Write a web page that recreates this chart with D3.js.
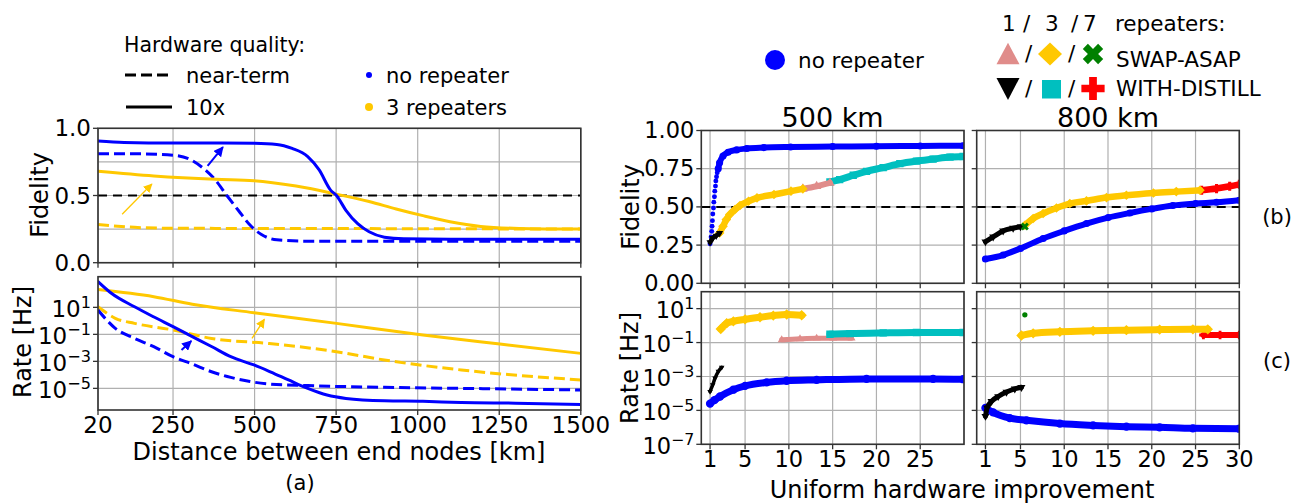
<!DOCTYPE html>
<html><head><meta charset="utf-8">
<script src="https://cdn.jsdelivr.net/npm/d3@7"></script>
<style>
body{margin:0;background:#fff}
svg{display:block}
text{font-family:"DejaVu Sans",sans-serif;fill:#000}
</style>
</head><body>
<svg id="c" width="1302" height="504"></svg>
<script>
// ---------------- DATA ----------------
const distTicks = [20, 250, 500, 750, 1000, 1250, 1500];
const fidTicksA = [0, 0.5, 1.0];
const fidGridA = [0, 0.25, 0.5, 0.75, 1.0];
const rateTicksA = [1e1, 1e-1, 1e-3, 1e-5];
const rateTickLabelsA = ["1", "\u22121", "\u22123", "\u22125"];
const imprTicks500 = [1, 5, 10, 15, 20, 25];
const imprTicks800 = [1, 5, 10, 15, 20, 25, 30];
const fidTicksB = [0, 0.25, 0.5, 0.75, 1.0];
const fidTickLabelsB = ["0.00", "0.25", "0.50", "0.75", "1.00"];
const rateTicksB = [1e1, 1e-1, 1e-3, 1e-5, 1e-7];
const rateTickLabelsB = ["1", "\u22121", "\u22123", "\u22125", "\u22127"];

// (a) fidelity vs distance [km, fidelity]
const fidA_noRep_10x = [[20,0.906],[100,0.895],[250,0.89],[400,0.89],[500,0.888],[568,0.88],[615,0.85],[663,0.79],[698,0.69],[733,0.54],[751,0.5],[780,0.39],[816,0.29],[851,0.23],[898,0.19],[957,0.178],[1100,0.175],[1500,0.175]];
const fidA_noRep_near = [[20,0.81],[150,0.81],[250,0.80],[309,0.76],[344,0.70],[380,0.615],[415,0.50],[450,0.39],[486,0.28],[521,0.21],[568,0.17],[663,0.16],[900,0.16],[1500,0.16]];
const fidA_3rep_10x = [[20,0.68],[191,0.645],[380,0.62],[498,0.61],[627,0.57],[751,0.51],[851,0.455],[934,0.40],[1016,0.35],[1099,0.305],[1193,0.27],[1311,0.255],[1500,0.25]];
const fidA_3rep_near = [[20,0.285],[132,0.263],[250,0.256],[500,0.255],[1000,0.253],[1500,0.25]];

// (a) rate vs distance [km, Hz]
const rateA_noRep_10x = [[20,8e2],[61,1.1e2],[132,11],[190,2],[250,0.37],[309,0.068],[368,0.0126],[427,2.2e-3],[498,5.4e-4],[550,1.6e-4],[604,4.2e-5],[663,1e-5],[722,3.2e-6],[780,1.8e-6],[898,1.2e-6],[1016,1.1e-6],[1134,9e-7],[1300,8e-7],[1500,6.5e-7]];
const rateA_noRep_near = [[20,6.3],[73,0.28],[132,0.05],[191,0.0123],[250,2.2e-3],[309,6.3e-4],[368,1.7e-4],[427,6.5e-5],[486,3.2e-5],[545,2.1e-5],[663,1.6e-5],[898,1.2e-5],[1200,9.5e-6],[1500,7.6e-6]];
const rateA_3rep_10x = [[20,2.1e2],[191,62],[309,17],[498,4],[751,0.65],[1016,0.089],[1252,0.019],[1500,3.9e-3]];
const rateA_3rep_near = [[20,11],[73,1.55],[132,0.65],[250,0.21],[368,0.05],[545,0.021],[751,5.2e-3],[898,1.26e-3],[1134,2.3e-4],[1500,4.2e-5]];

// (b) fidelity vs hardware improvement, 500 km
const fid500_noRep_sparse = [[1.0,0.259],[1.12,0.303],[1.19,0.34],[1.23,0.373],[1.27,0.41],[1.31,0.454],[1.39,0.493],[1.43,0.531],[1.5,0.566],[1.54,0.603],[1.62,0.636],[1.66,0.669],[1.74,0.697],[1.82,0.724],[1.93,0.75]];
const fid500_noRep = [[1.93,0.75],[2.09,0.789],[2.48,0.833],[3.06,0.858],[4.03,0.873],[5.19,0.882],[7.14,0.888],[10.2,0.892],[15,0.895],[20,0.897],[25,0.899],[29.9,0.9]];
const fid500_1rep_distill = [[1.0,0.268],[1.31,0.296],[1.7,0.311],[2.09,0.329]];
const fid500_3rep_swap = [[2.09,0.329],[2.48,0.373],[2.86,0.417],[3.25,0.45],[3.83,0.482],[4.42,0.509],[5.39,0.537],[6.36,0.559],[8.3,0.581],[10.24,0.603],[11.6,0.618]];
const fid500_1rep_swap = [[11.6,0.618],[13.17,0.635],[14.69,0.657]];
const fid500_3rep_distill = [[14.69,0.663],[15.8,0.678],[17.35,0.707],[18.87,0.733],[20.77,0.757],[22.67,0.783],[24.57,0.80],[26.47,0.813],[28.4,0.826],[29.9,0.83]];

// (b) fidelity, 800 km
const fid800_noRep = [[1,0.159],[3.02,0.185],[5,0.228],[7.59,0.293],[10,0.343],[12.54,0.391],[15.02,0.43],[17.5,0.46],[20,0.487],[22.4,0.509],[25,0.522],[27.4,0.53],[30,0.543]];
const fid800_1rep_distill = [[1,0.272],[1.88,0.304],[3.02,0.343],[4.16,0.361],[5,0.37]];
const fid800_7rep_swap = [[5.5,0.372]];
const fid800_3rep_swap = [[5.5,0.38],[6.45,0.424],[7.59,0.457],[9.11,0.493],[10.64,0.522],[12.54,0.539],[14.83,0.561],[17.1,0.576],[20.2,0.591],[22.8,0.6],[25.5,0.609]];
const fid800_7rep_distill = [[25.7,0.609],[27.4,0.62],[28.9,0.635],[30,0.648]];

// (c) rate, 500 km
const rate500_noRep = [[1,2.5e-5],[1.5,4e-5],[2.14,6.6e-5],[3.66,1.66e-4],[5,2.8e-4],[7.46,4.5e-4],[9.75,5.6e-4],[13.17,6.3e-4],[18.87,7.2e-4],[26.47,7.2e-4],[29.9,6.9e-4]];
const rate500_1rep_distill = [[1.0,1.3e-4],[1.3,3.2e-4],[1.57,7.9e-4],[1.95,2e-3],[2.33,3.5e-3]];
const rate500_3rep_swap = [[2.22,0.63],[2.9,1.38],[3.66,1.78],[5,2.34],[6.7,3.1],[8.22,3.9],[9.75,4.5],[11.46,4.1]];
const rate500_1rep_swap = [[9.18,0.145],[11.27,0.166],[13.17,0.178],[15.07,0.178],[17.16,0.178]];
const rate500_3rep_distill = [[14.69,0.31],[16.97,0.34],[20.77,0.37],[24.57,0.39],[29.9,0.39]];

// (c) rate, 800 km
const rate800_noRep = [[1,1.4e-5],[1.88,7.6e-6],[3.78,3.5e-6],[5.69,2.6e-6],[9.5,1.66e-6],[13.3,1.3e-6],[17.1,1.1e-6],[20.9,1e-6],[24.7,8.7e-7],[30,8.3e-7]];
const rate800_1rep_distill = [[1,4.5e-6],[1.19,1.4e-5],[1.69,3.4e-5],[2.45,6.6e-5],[3.4,1.2e-4],[4.35,1.86e-4],[5.11,2.3e-4]];
const rate800_7rep_swap = [[5.5,4.3]];
const rate800_3rep_swap = [[5.11,0.26],[6.45,0.35],[9.5,0.43],[13.3,0.49],[17.1,0.54],[20.9,0.58],[24.7,0.6],[26.4,0.6]];
const rate800_7rep_distill = [[25.9,0.28],[27.8,0.28],[30,0.28]];

// arrows [from, to] in data coordinates
const arrowsFidA = [{c:"blue", w:2, from:[356,0.72], to:[403,0.86]}, {c:"gold", w:1.3, from:[94,0.36], to:[185,0.585]}];
const arrowsRateA = [{c:"gold", w:1.3, from:[492,0.05], to:[530,1.3]}, {c:"blue", w:2, from:[276,6.9e-3], to:[306,3.2e-2]}];

// ---------------- STYLE ----------------
const C = {blue:"#0000ff", gold:"#ffc800", pink:"#e08c8a", teal:"#00bfbf", green:"#008000", red:"#ff0000", black:"#000000"};
const GRID = "#b0b0b0", FRAME = "#333";

const svg = d3.select("#c");
const defs = svg.append("defs");
["blue","gold"].forEach(k => {
  defs.append("marker").attr("id","ah-"+k).attr("viewBox","0 0 10 10").attr("refX",9).attr("refY",5)
    .attr("markerWidth", k==="blue"?5:7).attr("markerHeight", k==="blue"?5:7).attr("markerUnits","strokeWidth").attr("orient","auto")
    .append("path").attr("d","M0,0 L10,5 L0,10 Z").attr("fill",C[k]);
});

let clipN = 0;
function makePanel(xs, ys) {
  const g = svg.append("g");
  const id = "clip" + (clipN++);
  const [x0,x1] = xs.range(), [y0,y1] = ys.range();
  defs.append("clipPath").attr("id", id).append("rect")
    .attr("x", x0).attr("y", y1).attr("width", x1-x0).attr("height", y0-y1);
  const grid = g.append("g");
  const data = g.append("g").attr("clip-path", `url(#${id})`);
  const top = g.append("g");
  return {g, grid, data, top, xs, ys, x0, x1, y0, y1};
}
function gridX(p, vals) {
  vals.forEach(v => p.grid.append("line").attr("x1",p.xs(v)).attr("x2",p.xs(v)).attr("y1",p.y0).attr("y2",p.y1)
    .attr("stroke",GRID).attr("stroke-width",1.2));
}
function gridY(p, vals) {
  vals.forEach(v => p.grid.append("line").attr("y1",p.ys(v)).attr("y2",p.ys(v)).attr("x1",p.x0).attr("x2",p.x1)
    .attr("stroke",GRID).attr("stroke-width",1.2));
}
function frame(p) {
  p.top.append("rect").attr("x",p.x0).attr("y",p.y1).attr("width",p.x1-p.x0).attr("height",p.y0-p.y1)
    .attr("fill","none").attr("stroke",FRAME).attr("stroke-width",1.6);
}
function xTicks(p, vals, labels, baseY, fs) {
  vals.forEach((v,i) => {
    p.top.append("line").attr("x1",p.xs(v)).attr("x2",p.xs(v)).attr("y1",p.y0).attr("y2",p.y0+5).attr("stroke",FRAME).attr("stroke-width",1.3);
    if (labels) p.top.append("text").attr("x",p.xs(v)).attr("y",baseY).attr("text-anchor","middle").attr("font-size",fs).text(labels[i]);
  });
}
function yTicks(p, vals, labels, fs, dy) {
  vals.forEach((v,i) => {
    p.top.append("line").attr("y1",p.ys(v)).attr("y2",p.ys(v)).attr("x1",p.x0-5).attr("x2",p.x0).attr("stroke",FRAME).attr("stroke-width",1.3);
    if (labels) p.top.append("text").attr("x",p.x0-7).attr("y",p.ys(v)+dy).attr("text-anchor","end").attr("font-size",fs).text(labels[i]);
  });
}
function yLogTicks(p, vals, exps, fs, dy) {
  vals.forEach((v,i) => {
    p.top.append("line").attr("y1",p.ys(v)).attr("y2",p.ys(v)).attr("x1",p.x0-5).attr("x2",p.x0).attr("stroke",FRAME).attr("stroke-width",1.3);
    if (exps) {
      const t = p.top.append("text").attr("x",p.x0-7).attr("y",p.ys(v)+dy).attr("text-anchor","end").attr("font-size",fs);
      t.append("tspan").text("10");
      t.append("tspan").attr("dy", -0.4*fs).attr("font-size", fs*0.7).text(exps[i]);
    }
  });
}
function line(p, data, color, width, dash) {
  const gen = d3.line().x(d => p.xs(d[0])).y(d => p.ys(d[1])).curve(d3.curveMonotoneX);
  const path = p.data.append("path").attr("d", gen(data)).attr("fill","none").attr("stroke",color)
    .attr("stroke-width",width).attr("stroke-linejoin","round").attr("stroke-linecap", dash ? "butt" : "round");
  if (dash) path.attr("stroke-dasharray", dash);
  return path;
}
const sym = {
  circle: d3.symbolCircle, triUp: d3.symbolTriangle, triDown: d3.symbolTriangle,
  diamond: d3.symbolSquare, x: d3.symbolCross, plus: d3.symbolCross, square: d3.symbolSquare
};
const rot = {triDown:180, diamond:45, x:45};
function markers(p, data, shape, color, size) {
  p.data.selectAll(null).data(data).enter().append("path")
    .attr("d", d3.symbol().type(sym[shape]).size(size)())
    .attr("transform", d => `translate(${p.xs(d[0])},${p.ys(d[1])}) rotate(${rot[shape]||0})`)
    .attr("fill", color);
}
function band(p, data, shape, color, width) {
  line(p, data, color, width);
  markers(p, data, shape, color, width*width*1.1);
}
function arrow(p, a) {
  p.data.append("line").attr("x1",p.xs(a.from[0])).attr("y1",p.ys(a.from[1]))
    .attr("x2",p.xs(a.to[0])).attr("y2",p.ys(a.to[1]))
    .attr("stroke",C[a.c]).attr("stroke-width",a.w).attr("marker-end",`url(#ah-${a.c})`);
}

// ---------------- PANEL (a) ----------------
const xA = d3.scaleLinear().domain([20,1500]).range([98,580.8]);
const yFA = d3.scaleLinear().domain([0,1]).range([262.7,128.3]);
const yRA = d3.scaleLog().domain([2.5e-7,1.86e3]).range([410,276.7]);

const pFA = makePanel(xA, yFA);
gridX(pFA, distTicks); gridY(pFA, fidGridA);
line(pFA, [[20,0.5],[1500,0.5]], "#000", 1.8, "9,6");
line(pFA, fidA_3rep_near, C.gold, 3, "11,5");
line(pFA, fidA_noRep_near, C.blue, 3, "11,5");
line(pFA, fidA_3rep_10x, C.gold, 3);
line(pFA, fidA_noRep_10x, C.blue, 3);
arrowsFidA.forEach(a => arrow(pFA, a));
frame(pFA);
xTicks(pFA, distTicks, null);
yTicks(pFA, fidTicksA, fidTicksA.map(d => d.toFixed(1)), 23, 8);

const pRA = makePanel(xA, yRA);
gridX(pRA, distTicks); gridY(pRA, rateTicksA);
line(pRA, rateA_3rep_near, C.gold, 3, "11,5");
line(pRA, rateA_noRep_near, C.blue, 3, "11,5");
line(pRA, rateA_3rep_10x, C.gold, 3);
line(pRA, rateA_noRep_10x, C.blue, 3);
arrowsRateA.forEach(a => arrow(pRA, a));
frame(pRA);
xTicks(pRA, distTicks, distTicks.map(String), 433, 23);
yLogTicks(pRA, rateTicksA, rateTickLabelsA, 23, 10);

svg.append("text").attr("x",40).attr("y",195).attr("font-size",24).attr("text-anchor","middle")
  .attr("transform","rotate(-90,40,195)").attr("dy",8).text("Fidelity");
svg.append("text").attr("x",23).attr("y",342).attr("font-size",24).attr("text-anchor","middle")
  .attr("transform","rotate(-90,23,342)").attr("dy",8).text("Rate [Hz]");
svg.append("text").attr("x",339).attr("y",460).attr("font-size",24).attr("text-anchor","middle").text("Distance between end nodes [km]");
svg.append("text").attr("x",300).attr("y",490).attr("font-size",21).attr("text-anchor","middle").text("(a)");

// legend (a)
const lgA = svg.append("g");
lgA.append("text").attr("x",124).attr("y",52).attr("font-size",20.5).text("Hardware quality:");
lgA.append("line").attr("x1",125).attr("x2",170).attr("y1",75).attr("y2",75).attr("stroke","#000").attr("stroke-width",3).attr("stroke-dasharray","11,5");
lgA.append("text").attr("x",186).attr("y",83).attr("font-size",21).text("near-term");
lgA.append("line").attr("x1",126).attr("x2",172).attr("y1",107).attr("y2",107).attr("stroke","#000").attr("stroke-width",3);
lgA.append("text").attr("x",186).attr("y",115).attr("font-size",21).text("10x");
lgA.append("circle").attr("cx",369).attr("cy",75).attr("r",3).attr("fill",C.blue);
lgA.append("text").attr("x",386).attr("y",83).attr("font-size",21).text("no repeater");
lgA.append("circle").attr("cx",369).attr("cy",107).attr("r",4).attr("fill",C.gold);
lgA.append("text").attr("x",386).attr("y",115).attr("font-size",21).text("3 repeaters");

// ---------------- PANELS (b),(c) ----------------
const x500 = d3.scaleLinear().domain([0,30]).range([701.3,964]);
const x800 = d3.scaleLinear().domain([0,30]).range([976.7,1239.3]);
const yFB = d3.scaleLinear().domain([0,1]).range([283.3,130.5]);
const yRB = d3.scaleLog().domain([1e-7,1e2]).range([444.3,291.7]);

// 500 km fidelity
const pF5 = makePanel(x500, yFB);
gridX(pF5, imprTicks800); gridY(pF5, fidTicksB);
line(pF5, [[0,0.5],[30,0.5]], "#000", 2, "9,6");
band(pF5, fid500_noRep, "circle", C.blue, 6);
markers(pF5, fid500_noRep_sparse, "circle", C.blue, 19);
band(pF5, fid500_3rep_distill, "square", C.teal, 7);
band(pF5, fid500_1rep_swap, "triUp", C.pink, 6);
band(pF5, fid500_3rep_swap, "diamond", C.gold, 6.5);
band(pF5, fid500_1rep_distill, "triDown", C.black, 4.5);
frame(pF5);
xTicks(pF5, imprTicks500, null);
yTicks(pF5, fidTicksB, fidTickLabelsB, 22.5, 7.5);

// 800 km fidelity
const pF8 = makePanel(x800, yFB);
gridX(pF8, imprTicks800); gridY(pF8, fidTicksB);
line(pF8, [[0,0.5],[30,0.5]], "#000", 2, "9,6");
band(pF8, fid800_noRep, "circle", C.blue, 6);
band(pF8, fid800_7rep_distill, "plus", C.red, 6.5);
band(pF8, fid800_3rep_swap, "diamond", C.gold, 6.5);
band(pF8, fid800_1rep_distill, "triDown", C.black, 5);
markers(pF8, fid800_7rep_swap, "x", C.green, 40);
frame(pF8);
xTicks(pF8, imprTicks800, null);
yTicks(pF8, fidTicksB, null);

// 500 km rate
const pR5 = makePanel(x500, yRB);
gridX(pR5, imprTicks800); gridY(pR5, rateTicksB);
band(pR5, rate500_noRep, "circle", C.blue, 7);
band(pR5, rate500_1rep_swap, "triUp", C.pink, 5);
band(pR5, rate500_3rep_distill, "square", C.teal, 7);
band(pR5, rate500_3rep_swap, "diamond", C.gold, 7);
band(pR5, rate500_1rep_distill, "triDown", C.black, 3.5);
frame(pR5);
xTicks(pR5, imprTicks500, imprTicks500.map(String), 467, 22.5);
yLogTicks(pR5, rateTicksB, rateTickLabelsB, 22.5, 9.5);

// 800 km rate
const pR8 = makePanel(x800, yRB);
gridX(pR8, imprTicks800); gridY(pR8, rateTicksB);
band(pR8, rate800_noRep, "circle", C.blue, 7);
band(pR8, rate800_7rep_distill, "plus", C.red, 6);
band(pR8, rate800_3rep_swap, "diamond", C.gold, 7);
band(pR8, rate800_1rep_distill, "triDown", C.black, 5);
markers(pR8, rate800_7rep_swap, "circle", C.green, 22);
frame(pR8);
xTicks(pR8, imprTicks800, imprTicks800.map(String), 467, 22.5);
yLogTicks(pR8, rateTicksB, null);

// titles / labels
svg.append("text").attr("x",832.6).attr("y",127).attr("font-size",27).attr("text-anchor","middle").text("500 km");
svg.append("text").attr("x",1108).attr("y",127).attr("font-size",27).attr("text-anchor","middle").text("800 km");
svg.append("text").attr("x",631).attr("y",207).attr("font-size",24).attr("text-anchor","middle")
  .attr("transform","rotate(-90,631,207)").attr("dy",8).text("Fidelity");
svg.append("text").attr("x",630).attr("y",368).attr("font-size",24).attr("text-anchor","middle")
  .attr("transform","rotate(-90,630,368)").attr("dy",8).text("Rate [Hz]");
svg.append("text").attr("x",962).attr("y",498).attr("font-size",24).attr("text-anchor","middle").text("Uniform hardware improvement");
svg.append("text").attr("x",1277).attr("y",224).attr("font-size",21).attr("text-anchor","middle").text("(b)");
svg.append("text").attr("x",1277).attr("y",368).attr("font-size",21).attr("text-anchor","middle").text("(c)");

// legend (b/c)
const lgB = svg.append("g");
lgB.append("circle").attr("cx",775).attr("cy",60).attr("r",10).attr("fill",C.blue);
lgB.append("text").attr("x",798).attr("y",68).attr("font-size",21.5).text("no repeater");
[["1",1002],["/",1023],["3",1045],["/",1071],["7",1083],["repeaters:",1115]].forEach(([t,x]) =>
  lgB.append("text").attr("x",x).attr("y",31).attr("font-size",21.5).text(t));
lgB.append("path").attr("d","M1008,42.7 L1019.5,64.3 L996.5,64.3 Z").attr("fill",C.pink);
lgB.append("path").attr("d","M1050,42.5 L1062,54 L1050,65.5 L1038,54 Z").attr("fill",C.gold);
lgB.append("path").attr("d", d3.symbol().type(d3.symbolCross).size(260)()).attr("transform","translate(1093,54) rotate(45)").attr("fill",C.green);
lgB.append("path").attr("d","M996.5,78 L1019.5,78 L1008,100 Z").attr("fill",C.black);
lgB.append("rect").attr("x",1042).attr("y",80).attr("width",19).attr("height",18.5).attr("fill",C.teal);
lgB.append("path").attr("d", d3.symbol().type(d3.symbolCross).size(300)()).attr("transform","translate(1093,88.5)").attr("fill",C.red);
[[1025,61],[1068,61],[1025,96],[1068,96]].forEach(([x,y]) =>
  lgB.append("text").attr("x",x).attr("y",y).attr("font-size",21.5).text("/"));
lgB.append("text").attr("x",1116).attr("y",67).attr("font-size",21.5).text("SWAP-ASAP");
lgB.append("text").attr("x",1116).attr("y",96).attr("font-size",21.5).text("WITH-DISTILL");
</script>
</body></html>
